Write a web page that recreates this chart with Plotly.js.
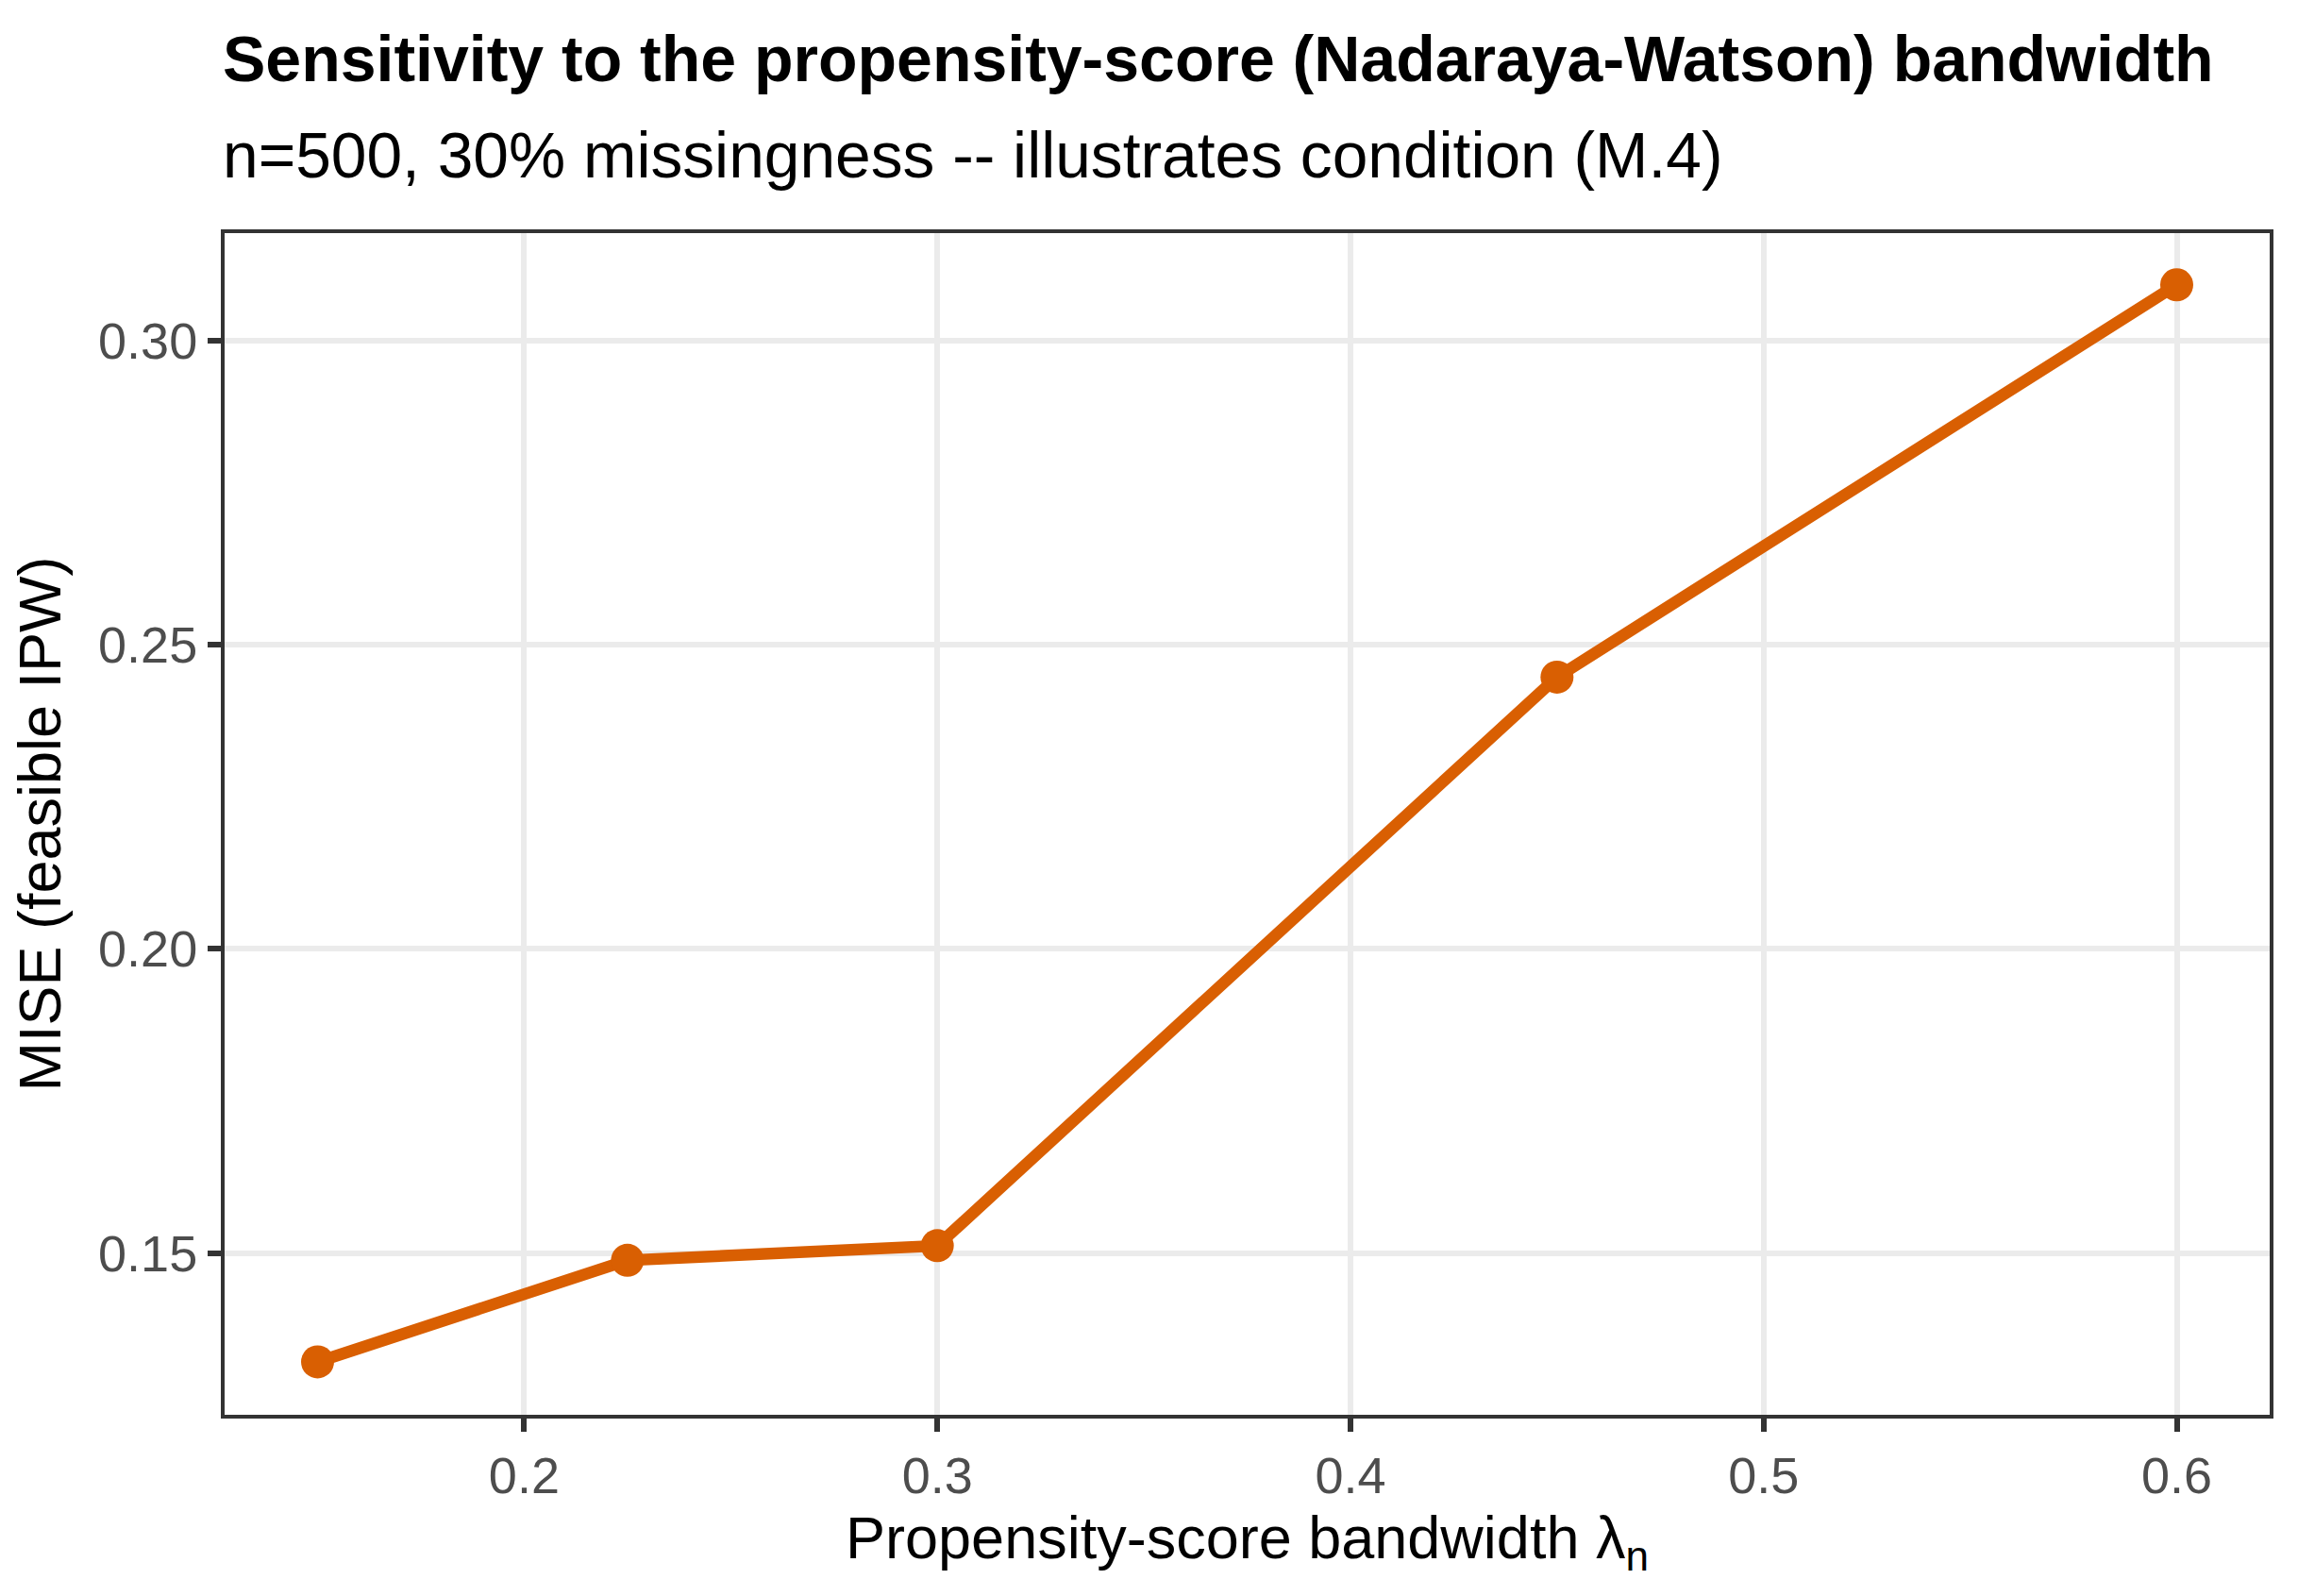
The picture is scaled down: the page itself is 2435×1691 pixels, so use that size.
<!DOCTYPE html>
<html>
<head>
<meta charset="utf-8">
<script src="https://cdn.plot.ly/plotly-3.0.1.min.js"></script>
<style>
  html, body { margin: 0; padding: 0; background: #fff; }
  #chart { width: 2435px; height: 1691px; }
</style>
</head>
<body>
<div id="chart"></div>
<script>
// bandwidths and the MISE
const bandwidth = [0.15, 0.225, 0.30, 0.45, 0.60];
const mise = [0.1321, 0.1488, 0.1512, 0.2447, 0.3092];

const xTicks = [0.2, 0.3, 0.4, 0.5, 0.6];
const xTickText = ["0.2", "0.3", "0.4", "0.5", "0.6"];
const yTicks = [0.15, 0.20, 0.25, 0.30];
const yTickText = ["0.15", "0.20", "0.25", "0.30"];

const FONT = "Liberation Sans, Arial, Helvetica, sans-serif";
const ORANGE = "#D95F02";

const trace = {
  x: bandwidth,
  y: mise,
  type: "scatter",
  mode: "lines+markers",
  line: { color: ORANGE, width: 12.5 },
  marker: { color: ORANGE, size: 35 },
  hoverinfo: "x+y",
  showlegend: false
};

const axisCommon = {
  showgrid: true,
  gridcolor: "#EBEBEB",
  gridwidth: 6,
  zeroline: false,
  showline: true,
  mirror: true,
  linecolor: "#333333",
  linewidth: 4,
  ticks: "outside",
  ticklen: 14,
  tickwidth: 6,
  tickcolor: "#333333",
  tickfont: { family: FONT, size: 54, color: "#4D4D4D" }
};

const layout = {
  width: 2435,
  height: 1691,
  paper_bgcolor: "#FFFFFF",
  plot_bgcolor: "#FFFFFF",
  margin: { l: 238, r: 30, t: 247, b: 192 },
  font: { family: FONT, color: "#000000" },
  xaxis: Object.assign({}, axisCommon, {
    range: [0.1275, 0.6225],
    tickmode: "array",
    tickvals: xTicks,
    ticktext: xTickText,
    automargin: false,
    title: {
      text: "Propensity-score bandwidth \u03bb<sub>n</sub>",
      font: { family: FONT, size: 63, color: "#000000" },
      standoff: 16
    }
  }),
  yaxis: Object.assign({}, axisCommon, {
    range: [0.1234, 0.3177],
    tickmode: "array",
    tickvals: yTicks,
    ticktext: yTickText,
    automargin: false,
    title: {
      text: "MISE (feasible IPW)",
      font: { family: FONT, size: 63, color: "#000000" },
      standoff: 20
    }
  }),
  annotations: [
    {
      text: "<b>Sensitivity to the propensity-score (Nadaraya-Watson) bandwidth</b>",
      xref: "paper", yref: "paper",
      x: -0.002, y: 1.1158,
      xanchor: "left", yanchor: "bottom",
      showarrow: false,
      font: { family: FONT, size: 68, color: "#000000" }
    },
    {
      text: "n=500, 30% missingness -- illustrates condition (M.4)",
      xref: "paper", yref: "paper",
      x: -0.002, y: 1.0343,
      xanchor: "left", yanchor: "bottom",
      showarrow: false,
      font: { family: FONT, size: 67.7, color: "#000000" }
    }
  ]
};

Plotly.newPlot("chart", [trace], layout, { displayModeBar: false, staticPlot: true });
</script>
</body>
</html>
